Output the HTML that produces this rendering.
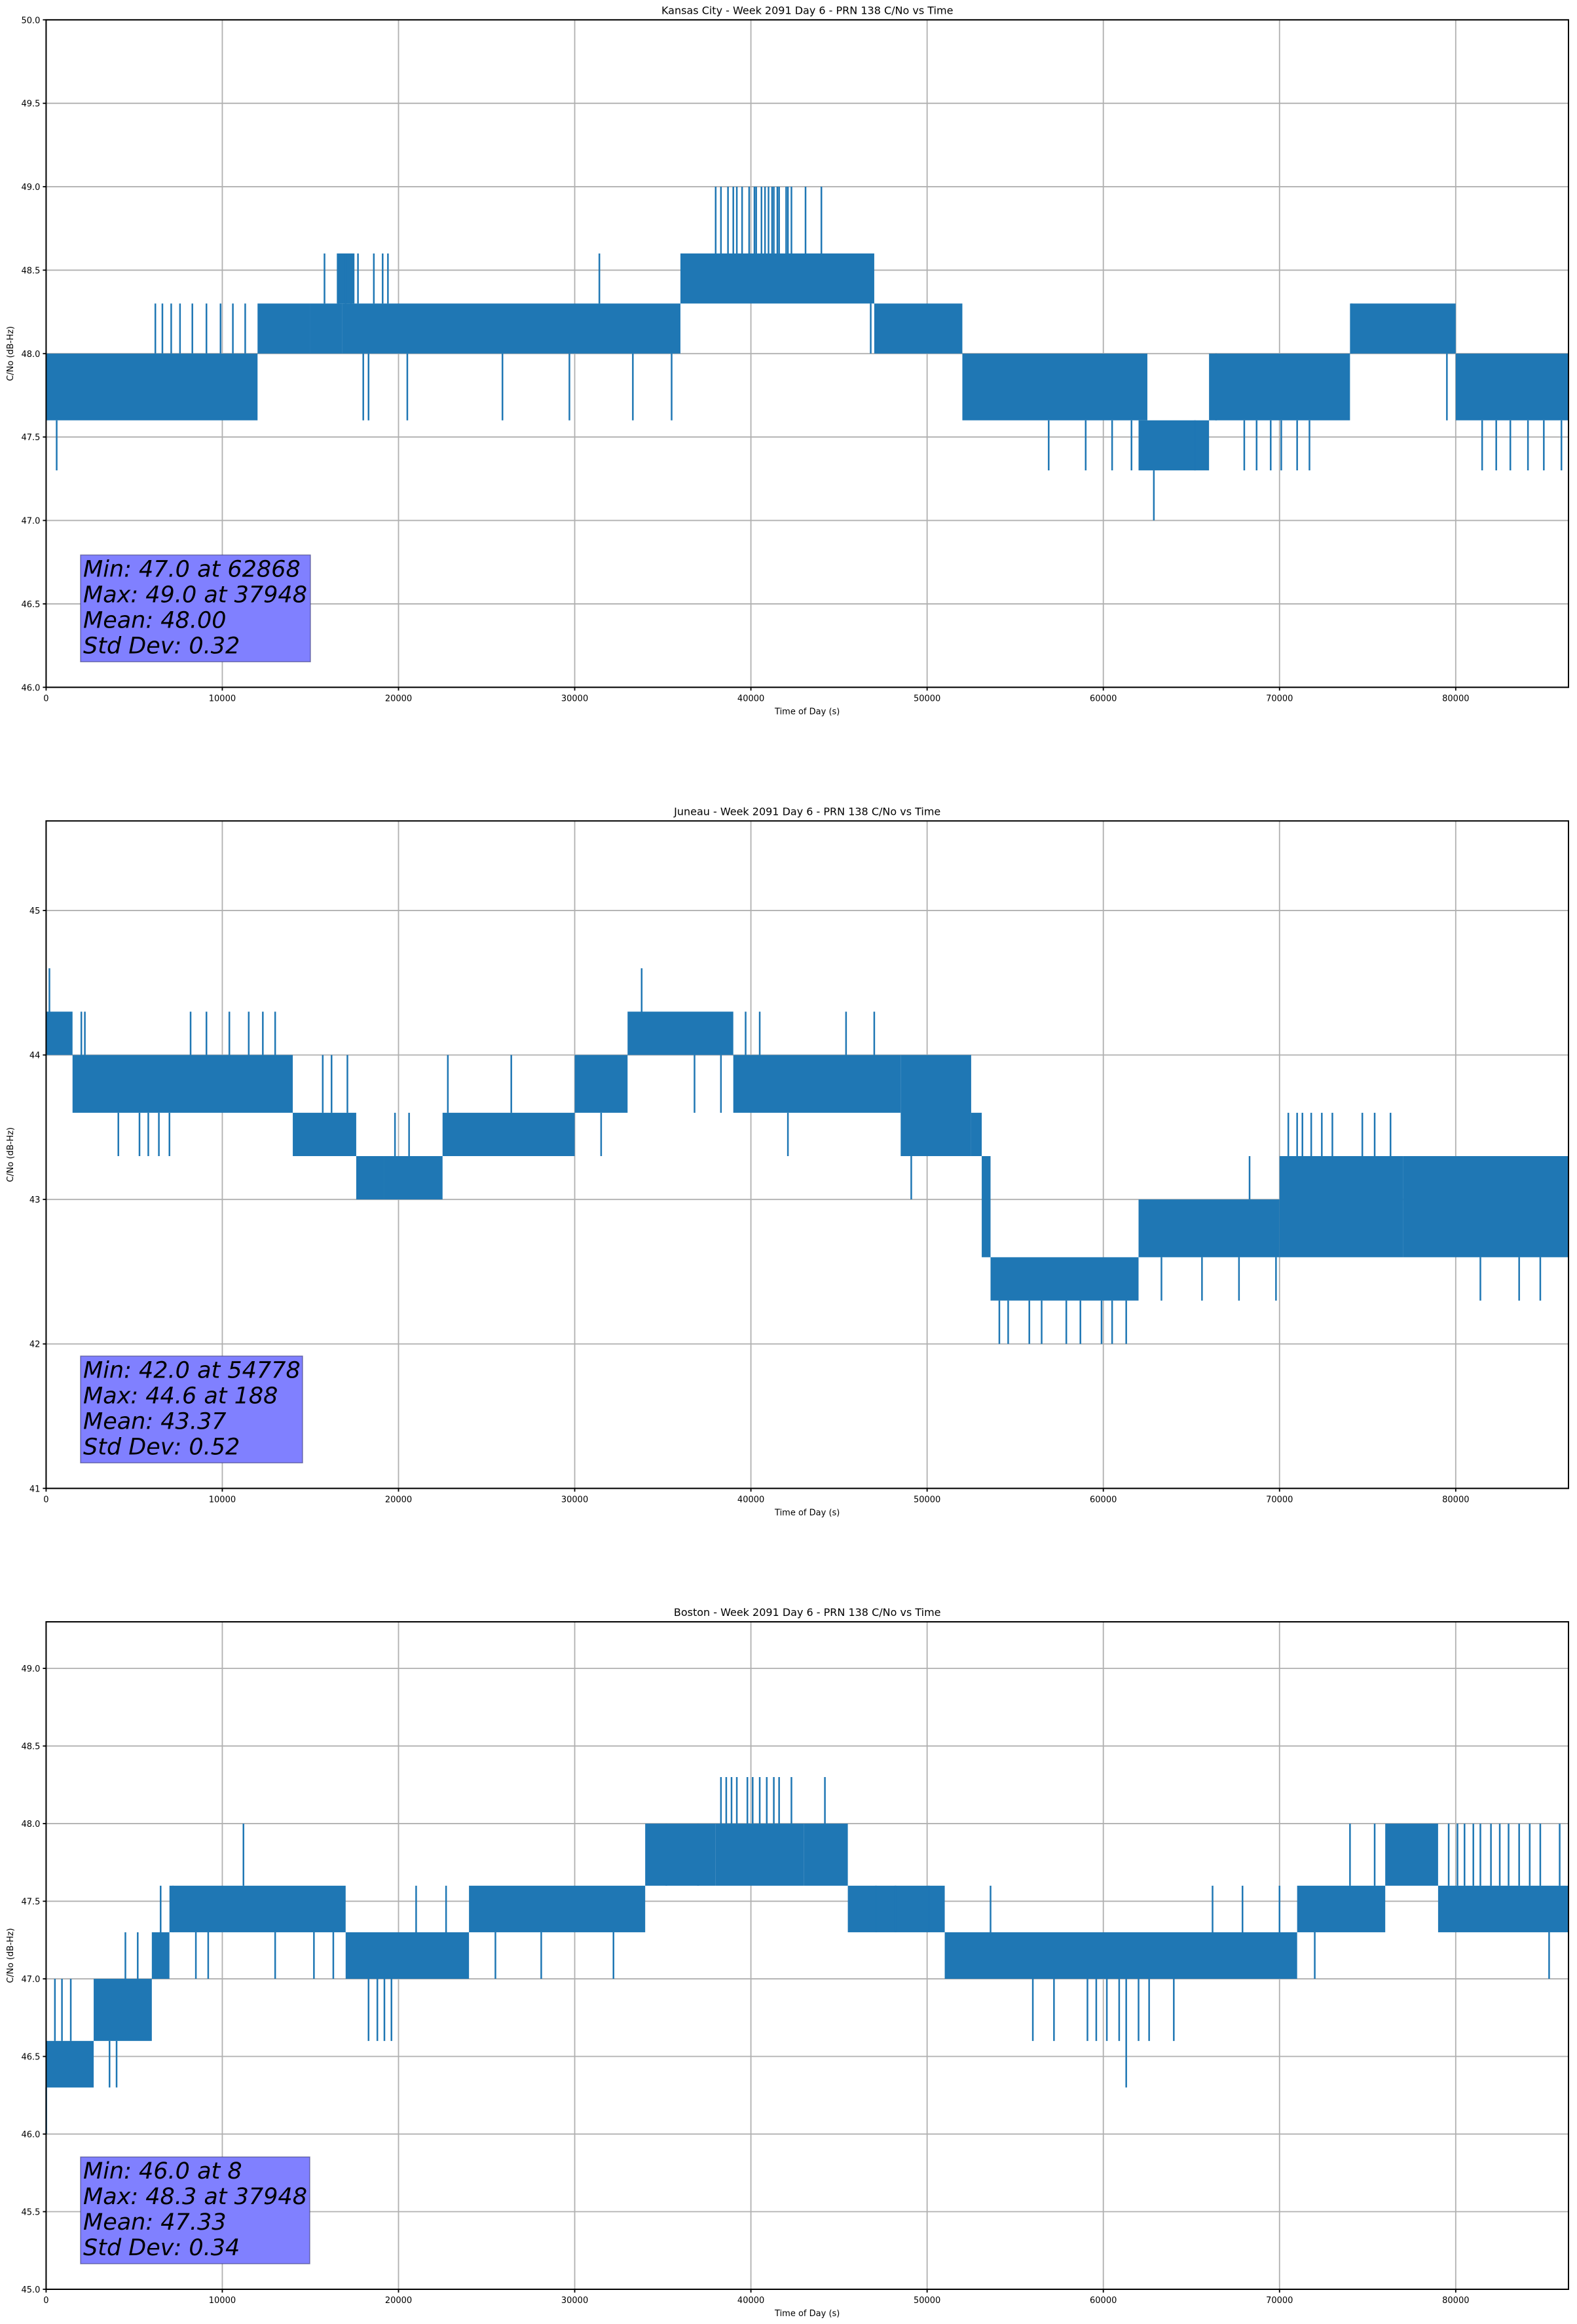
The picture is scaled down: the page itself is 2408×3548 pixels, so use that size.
<!DOCTYPE html>
<html><head><meta charset="utf-8">
<style>
html,body{margin:0;padding:0;background:#fff;}
svg{display:block;font-family:"DejaVu Sans","Liberation Sans",sans-serif;}
</style></head>
<body>
<svg id="fig" width="2408" height="3548" viewBox="0 0 2408 3548" xmlns="http://www.w3.org/2000/svg"></svg>
<script>
// ---------- Chart 1: Kansas City ----------
const kcSegStart = [0,     12000, 15000, 16800, 36000, 47000, 52000, 62000, 66000, 74000, 80000];
const kcSegEnd   = [12000, 15000, 16800, 36000, 47000, 52000, 62500, 66000, 74000, 80000, 86400];
const kcSegLo    = [47.6,  48.0,  48.0,  48.0,  48.3,  48.0,  47.6,  47.3,  47.6,  48.0,  47.6];
const kcSegHi    = [48.0,  48.3,  48.3,  48.3,  48.6,  48.3,  48.0,  47.6,  48.0,  48.3,  48.0];
const kcSpikeT   = [600,700,6200,6600,7100,7600,8300,9100,9900,10600,11300,15800,16600,17000,17300,17700,18600,19100,19400,18000,18300,20500,25900,29700,31400,33300,35500,38000,38300,38700,39000,39200,39500,39900,40200,40300,40600,40800,41000,41200,41300,41500,41600,42000,42100,42300,43100,44000,46800,47300,50400,51200,52600,53200,54500,56900,57300,59000,60500,61600,62868,65200,66400,68000,68700,69500,70100,71000,71700,74100,79500,81500,82300,83100,84100,85000,86000];
const kcSpikeV   = [47.3,47.6,48.3,48.3,48.3,48.3,48.3,48.3,48.3,48.3,48.3,48.6,48.6,48.6,48.6,48.6,48.6,48.6,48.6,47.6,47.6,47.6,47.6,47.6,48.6,47.6,47.6,49.0,49.0,49.0,49.0,49.0,49.0,49.0,49.0,49.0,49.0,49.0,49.0,49.0,49.0,49.0,49.0,49.0,49.0,49.0,49.0,49.0,48.0,48.0,48.0,48.0,47.6,47.6,47.6,47.3,47.6,47.3,47.3,47.3,47.0,47.6,48.0,47.3,47.3,47.3,47.3,47.3,47.3,48.3,47.6,47.3,47.3,47.3,47.3,47.3,47.3];
const kcMidT     = [17000];
const kcMidLo    = [48.3];
const kcMidHi    = [48.6];
const kcMidW     = [1000];
const kcTicksY   = [46.0,46.5,47.0,47.5,48.0,48.5,49.0,49.5,50.0];
const kcTickLab  = ["46.0","46.5","47.0","47.5","48.0","48.5","49.0","49.5","50.0"];

// ---------- Chart 2: Juneau ----------
const jnSegStart = [0,    1500, 14000, 17600, 19200, 22500, 30000, 33000, 39000, 48500, 52500, 53100, 53600, 62000, 70000, 77000];
const jnSegEnd   = [1500, 14000,17600, 19200, 22500, 30000, 33000, 39000, 48500, 52500, 53100, 53600, 62000, 70000, 77000, 86400];
const jnSegLo    = [44.0, 43.6, 43.3,  43.0,  43.0,  43.3,  43.6,  44.0,  43.6,  43.3,  43.3,  42.6,  42.3,  42.6,  42.6,  42.6];
const jnSegHi    = [44.3, 44.0, 43.6,  43.3,  43.3,  43.6,  44.0,  44.3,  44.0,  44.0,  43.6,  43.3,  42.6,  43.0,  43.3,  43.3];
const jnSpikeT   = [188,2000,2200,4100,5300,5800,6400,7000,8200,9100,10400,11500,12300,13000,15700,16200,17100,19800,20600,21500,22800,26400,27700,31500,33800,36800,38300,39700,40500,42100,45400,47000,49100,50100,54100,54600,55800,56500,57900,58700,59900,61300,60500,63300,65600,67700,68300,69800,70500,71000,71300,71800,72400,73000,74700,75400,76300,81400,83600,84800];
const jnSpikeV   = [44.6,44.3,44.3,43.3,43.3,43.3,43.3,43.3,44.3,44.3,44.3,44.3,44.3,44.3,44.0,44.0,44.0,43.6,43.6,43.0,44.0,44.0,43.3,43.3,44.6,43.6,43.6,44.3,44.3,43.3,44.3,44.3,43.0,43.3,42.0,42.0,42.0,42.0,42.0,42.0,42.0,42.0,42.0,42.3,42.3,42.3,43.3,42.3,43.6,43.6,43.6,43.6,43.6,43.6,43.6,43.6,43.6,42.3,42.3,42.3];
const jnMidT     = [];
const jnMidLo    = [];
const jnMidHi    = [];
const jnMidW     = [];
const jnTicksY   = [41,42,43,44,45];
const jnTickLab  = ["41","42","43","44","45"];

// ---------- Chart 3: Boston ----------
const bsSegStart = [0,    2700, 6000, 7000, 17000, 24000, 34000, 38000, 43000, 45500, 51000, 71000, 76000, 79000];
const bsSegEnd   = [2700, 6000, 7000, 17000,24000, 34000, 38000, 43000, 45500, 51000, 71000, 76000, 79000, 86400];
const bsSegLo    = [46.3, 46.6, 47.0, 47.3, 47.0,  47.3,  47.6,  47.6,  47.6,  47.3,  47.0,  47.3,  47.6,  47.3];
const bsSegHi    = [46.6, 47.0, 47.3, 47.6, 47.3,  47.6,  48.0,  48.0,  48.0,  47.6,  47.3,  47.6,  48.0,  47.6];
const bsSpikeT   = [8,500,900,1400,2100,3600,4000,4500,5200,6500,7200,8500,9200,11200,13000,15200,16300,18300,18800,19200,19600,21000,22700,25500,28100,32200,35200,37000,38300,38600,38900,39200,39800,40100,40500,40900,41300,41600,42300,44200,47100,48200,50100,53600,56000,57200,59100,59600,60200,60900,61300,62000,62600,64000,66200,67900,70000,72000,74000,75400,79600,80100,80500,81000,81400,82000,82500,83000,83600,84200,84800,85300,85900];
const bsSpikeV   = [46.0,47.0,47.0,47.0,46.3,46.3,46.3,47.3,47.3,47.6,47.6,47.0,47.0,48.0,47.0,47.0,47.0,46.6,46.6,46.6,46.6,47.6,47.6,47.0,47.0,47.0,48.0,48.0,48.3,48.3,48.3,48.3,48.3,48.3,48.3,48.3,48.3,48.3,48.3,48.3,47.6,47.6,47.6,47.6,46.6,46.6,46.6,46.6,46.6,46.6,46.3,46.6,46.6,46.6,47.6,47.6,47.6,47.0,48.0,48.0,48.0,48.0,48.0,48.0,48.0,48.0,48.0,48.0,48.0,48.0,48.0,47.0,48.0];
const bsMidT     = [];
const bsMidLo    = [];
const bsMidHi    = [];
const bsMidW     = [];
const bsTicksY   = [45.0,45.5,46.0,46.5,47.0,47.5,48.0,48.5,49.0];
const bsTickLab  = ["45.0","45.5","46.0","46.5","47.0","47.5","48.0","48.5","49.0"];

const xTicks    = [0,10000,20000,30000,40000,50000,60000,70000,80000];
const xTickLab  = ["0","10000","20000","30000","40000","50000","60000","70000","80000"];

const NS = "http://www.w3.org/2000/svg";
const fig = document.getElementById('fig');
function mk(tag, attrs, parent){
  const e = document.createElementNS(NS, tag);
  for (const k in attrs) e.setAttribute(k, attrs[k]);
  parent.appendChild(e);
  return e;
}
const L = 70.4, R = 2395, XMAX = 86400, H = 1019;
const BLUE = "#1f77b4";

function drawChart(c){
  const g = document.createElementNS(NS,'g');
  
  
  fig.appendChild(g);
  const T = c.top, B = c.top + H;
  const xs = t => L + (t / XMAX) * (R - L);
  const ys = v => B - (v - c.ymin) / (c.ymax - c.ymin) * H;

  xTicks.forEach((t,i)=>{
    const l = mk('line',{x1:xs(t),x2:xs(t),y1:T,y2:B,stroke:'#b0b0b0','stroke-width':1.8},g);
    
    
  });
  c.ticksY.forEach((v,i)=>{
    const l = mk('line',{x1:L,x2:R,y1:ys(v),y2:ys(v),stroke:'#b0b0b0','stroke-width':1.8},g);
    
    
  });

  const dg = document.createElementNS(NS,'g');
  
  
  g.appendChild(dg);
  c.segStart.forEach((s,i)=>{
    const r = mk('rect',{x:xs(s),y:ys(c.segHi[i]),width:xs(c.segEnd[i])-xs(s),height:ys(c.segLo[i])-ys(c.segHi[i]),fill:BLUE},dg);
    
    
  });
  c.midT.forEach((t,i)=>{
    const r = mk('rect',{x:xs(t - c.midW[i]/2),y:ys(c.midHi[i]),width:xs(c.midW[i])-xs(0),height:ys(c.midLo[i])-ys(c.midHi[i]),fill:BLUE},dg);
    
    
  });
  c.spikeT.forEach((t,i)=>{
    let k = 0;
    for (let j=0;j<c.segStart.length;j++){ if (t>=c.segStart[j] && t<c.segEnd[j]) k=j; }
    const v = c.spikeV[i];
    const from = v > c.segHi[k] ? c.segHi[k] : c.segLo[k];
    const l = mk('line',{x1:xs(t),x2:xs(t),y1:ys(from),y2:ys(v),stroke:BLUE,'stroke-width':2.5},dg);
    
    
  });

  const fr = mk('rect',{x:L,y:T,width:R-L,height:H,fill:'none',stroke:'#000','stroke-width':2},g);
  
  

  xTicks.forEach((t,i)=>{
    const tk = mk('line',{x1:xs(t),x2:xs(t),y1:B,y2:B+5,stroke:'#000','stroke-width':1.8},g);
    
    
    const tx = mk('text',{x:xs(t),y:B+21,'font-size':13,'text-anchor':'middle',fill:'#000'},g);
    tx.textContent = xTickLab[i];
    
    
  });
  c.ticksY.forEach((v,i)=>{
    const tk = mk('line',{x1:L-5,x2:L,y1:ys(v),y2:ys(v),stroke:'#000','stroke-width':1.8},g);
    
    
    const tx = mk('text',{x:L-9,y:ys(v)+5,'font-size':13,'text-anchor':'end',fill:'#000'},g);
    tx.textContent = c.tickLab[i];
    
    
  });

  const title = mk('text',{x:(L+R)/2,y:T-9,'font-size':16,'text-anchor':'middle',fill:'#000'},g);
  title.textContent = c.title;
  
  
  const xl = mk('text',{x:(L+R)/2,y:B+41,'font-size':13,'text-anchor':'middle',fill:'#000'},g);
  xl.textContent = 'Time of Day (s)';
  
  
  const yl = mk('text',{x:0,y:0,'font-size':13,'text-anchor':'middle',fill:'#000',transform:`translate(20,${(T+B)/2}) rotate(-90)`},g);
  yl.textContent = 'C/No (dB-Hz)';
  
  

  const bx = mk('rect',{x:123,y:B-202,width:c.boxW,height:163,fill:'rgb(128,128,255)',stroke:'rgba(60,60,120,0.6)','stroke-width':1.5},g);
  
  
  c.stats.forEach((s,i)=>{
    const tx = mk('text',{x:127,y:B-202+33+i*39,'font-size':35,'font-style':'italic',fill:'#000'},g);
    tx.textContent = s;
    
    
  });
}

drawChart({key:'kansas-city',top:30.3,ymin:46,ymax:50,ticksY:kcTicksY,tickLab:kcTickLab,
  segStart:kcSegStart,segEnd:kcSegEnd,segLo:kcSegLo,segHi:kcSegHi,spikeT:kcSpikeT,spikeV:kcSpikeV,
  midT:kcMidT,midLo:kcMidLo,midHi:kcMidHi,midW:kcMidW,boxW:351,
  title:'Kansas City - Week 2091 Day 6 - PRN 138 C/No vs Time',
  stats:['Min: 47.0 at 62868','Max: 49.0 at 37948','Mean: 48.00','Std Dev: 0.32']});
drawChart({key:'juneau',top:1253.3,ymin:41,ymax:45.62,ticksY:jnTicksY,tickLab:jnTickLab,
  segStart:jnSegStart,segEnd:jnSegEnd,segLo:jnSegLo,segHi:jnSegHi,spikeT:jnSpikeT,spikeV:jnSpikeV,
  midT:jnMidT,midLo:jnMidLo,midHi:jnMidHi,midW:jnMidW,boxW:339,
  title:'Juneau - Week 2091 Day 6 - PRN 138 C/No vs Time',
  stats:['Min: 42.0 at 54778','Max: 44.6 at 188','Mean: 43.37','Std Dev: 0.52']});
drawChart({key:'boston',top:2476,ymin:45,ymax:49.3,ticksY:bsTicksY,tickLab:bsTickLab,
  segStart:bsSegStart,segEnd:bsSegEnd,segLo:bsSegLo,segHi:bsSegHi,spikeT:bsSpikeT,spikeV:bsSpikeV,
  midT:bsMidT,midLo:bsMidLo,midHi:bsMidHi,midW:bsMidW,boxW:350,
  title:'Boston - Week 2091 Day 6 - PRN 138 C/No vs Time',
  stats:['Min: 46.0 at 8','Max: 48.3 at 37948','Mean: 47.33','Std Dev: 0.34']});
</script>
</body></html>
